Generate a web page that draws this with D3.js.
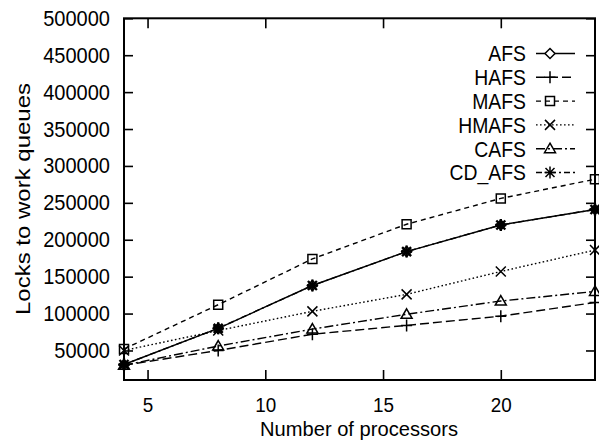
<!DOCTYPE html>
<html>
<head>
<meta charset="utf-8">
<script src="https://cdn.jsdelivr.net/npm/d3@7/dist/d3.min.js"></script>
<style>
  html, body { margin: 0; padding: 0; background: #fff; }
  svg { display: block; }
  text { font-family: "Liberation Sans", Arial, Helvetica, sans-serif; fill: #000; }
</style>
</head>
<body>
<svg id="chart" width="599" height="443"></svg>
<script>
// Number of processors on the x axis
const processors = [4, 8, 12, 16, 20, 24];

// Locks to work queues, one array per scheme
const afs    = [31000, 80000, 138000, 184000, 220000, 241000];
const hafs   = [30000, 50000, 72000, 84000, 96500, 115000];
const mafs   = [52000, 112000, 174000, 221000, 256000, 282000];
const hmafs  = [50000, 77000, 103000, 126000, 157000, 186000];
const cafs   = [30000, 56000, 79000, 99000, 117000, 130000];
const cdAfs  = [31000, 80000, 138000, 184000, 220000, 241000];

const seriesNames = ["AFS", "HAFS", "MAFS", "HMAFS", "CAFS", "CD_AFS"];
const seriesValues = [afs, hafs, mafs, hmafs, cafs, cdAfs];

const xTicks = [5, 10, 15, 20];
const yTicks = [50000, 100000, 150000, 200000, 250000, 300000, 350000, 400000, 450000, 500000];

// Line style and marker per series
const styles = [
  { dash: null,          marker: "diamond"  },
  { dash: "9,4",         marker: "plus"     },
  { dash: "5,4",         marker: "square"   },
  { dash: "1.6,2.4",     marker: "cross"    },
  { dash: "9,3,2,3",     marker: "triangle" },
  { dash: "6,3,2,3",     marker: "star"     }
];

const svg = d3.select("#chart");
const plotLeft = 124, plotRight = 595, plotTop = 18.3, plotBottom = 380;

const x = d3.scaleLinear().domain([4, 24]).range([plotLeft, plotRight]);
const y = d3.scaleLinear().domain([10000, 500000]).range([plotBottom, plotTop]);

// Axes with inward ticks, mirrored on the top and right edges
const gLeft = svg.append("g").attr("transform", `translate(${plotLeft},0)`)
  .call(d3.axisLeft(y).tickValues(yTicks).tickFormat(d3.format("d"))
    .tickSizeInner(-9).tickSizeOuter(0).tickPadding(14));
const gRight = svg.append("g").attr("transform", `translate(${plotRight},0)`)
  .call(d3.axisRight(y).tickValues(yTicks).tickFormat("")
    .tickSizeInner(-9).tickSizeOuter(0));
const gBottom = svg.append("g").attr("transform", `translate(0,${plotBottom})`)
  .call(d3.axisBottom(x).tickValues(xTicks).tickFormat(d3.format("d"))
    .tickSizeInner(-10).tickSizeOuter(0).tickPadding(17.8));
const gTop = svg.append("g").attr("transform", `translate(0,${plotTop})`)
  .call(d3.axisTop(x).tickValues(xTicks).tickFormat("")
    .tickSizeInner(-10).tickSizeOuter(0));

[gLeft, gRight, gBottom, gTop].forEach(g => {
  g.select(".domain").remove();
  g.attr("font-family", null).attr("font-size", null);
  g.selectAll(".tick line").attr("stroke", "#000").attr("stroke-width", 1.6);
});
gLeft.selectAll(".tick text").attr("font-size", 22).attr("data-k", 0.91);
gBottom.selectAll(".tick text").attr("font-size", 20.5).attr("data-k", 0.92);

// Plot frame
svg.append("rect")
  .attr("x", plotLeft).attr("y", plotTop)
  .attr("width", plotRight - plotLeft).attr("height", plotBottom - plotTop)
  .attr("fill", "none").attr("stroke", "#000").attr("stroke-width", 2);

// Marker shapes
function markerPath(type) {
  const p = d3.path();
  if (type === "diamond") {
    p.moveTo(0, -5); p.lineTo(5, 0); p.lineTo(0, 5); p.lineTo(-5, 0); p.closePath();
  } else if (type === "plus") {
    p.moveTo(-5.5, 0); p.lineTo(5.5, 0); p.moveTo(0, -6); p.lineTo(0, 6);
  } else if (type === "square") {
    p.rect(-4.5, -4.5, 9, 9);
  } else if (type === "cross") {
    p.moveTo(-5, -5); p.lineTo(5, 5); p.moveTo(-5, 5); p.lineTo(5, -5);
  } else if (type === "triangle") {
    p.moveTo(0, -5.5); p.lineTo(5.5, 4); p.lineTo(-5.5, 4); p.closePath();
  } else if (type === "star") {
    p.moveTo(-5.5, 0); p.lineTo(5.5, 0); p.moveTo(0, -6); p.lineTo(0, 6);
    p.moveTo(-4.5, -4.5); p.lineTo(4.5, 4.5); p.moveTo(-4.5, 4.5); p.lineTo(4.5, -4.5);
  }
  return p.toString();
}

const line = d3.line().x((d, i) => x(processors[i])).y(d => y(d));

const plot = svg.append("g");

seriesValues.forEach((vals, s) => {
  const st = styles[s];
  const g = plot.append("g");
  g.append("path")
    .attr("d", line(vals))
    .attr("fill", "none").attr("stroke", "#000")
    .attr("stroke-width", 1.4)
    .attr("stroke-dasharray", st.dash);
  g.selectAll("path.mk").data(vals).join("path")
    .attr("class", "mk")
    .attr("transform", (d, i) => `translate(${x(processors[i])},${y(d)})`)
    .attr("d", markerPath(st.marker))
    .attr("fill", st.marker === "diamond" ? "#fff" : "none")
    .attr("stroke", "#000")
    .attr("stroke-width", st.marker === "star" ? 2.4 : 1.5);
});

// Legend, upper right
const legend = svg.append("g");
seriesNames.forEach((name, s) => {
  const st = styles[s];
  const cy = 53.5 + s * 23.8;
  legend.append("text")
    .attr("x", 526).attr("y", cy).attr("dy", "0.36em")
    .attr("text-anchor", "end").attr("font-size", 22)
    .attr("data-k", 0.88)
    .text(name);
  legend.append("line")
    .attr("x1", 536).attr("x2", 575).attr("y1", cy).attr("y2", cy)
    .attr("stroke", "#000").attr("stroke-width", 1.4)
    .attr("stroke-dasharray", st.dash);
  legend.append("path")
    .attr("transform", `translate(550,${cy})`)
    .attr("d", markerPath(st.marker))
    .attr("fill", st.marker === "diamond" ? "#fff" : "none")
    .attr("stroke", "#000").attr("stroke-width", 1.5);
});

// Axis titles
svg.append("text")
  .attr("x", 359).attr("y", 435.5)
  .attr("text-anchor", "middle").attr("font-size", 21)
  .attr("textLength", 198).attr("lengthAdjust", "spacingAndGlyphs")
  .text("Number of processors");
svg.append("text")
  .attr("transform", "translate(30,199) rotate(-90)")
  .attr("text-anchor", "middle").attr("font-size", 21)
  .attr("textLength", 232).attr("lengthAdjust", "spacingAndGlyphs")
  .text("Locks to work queues");

// Narrow the label glyphs horizontally
svg.selectAll("text[data-k]").each(function () {
  const k = +this.getAttribute("data-k");
  const len = this.getComputedTextLength();
  d3.select(this).attr("textLength", len * k).attr("lengthAdjust", "spacingAndGlyphs");
});
</script>
</body>
</html>
